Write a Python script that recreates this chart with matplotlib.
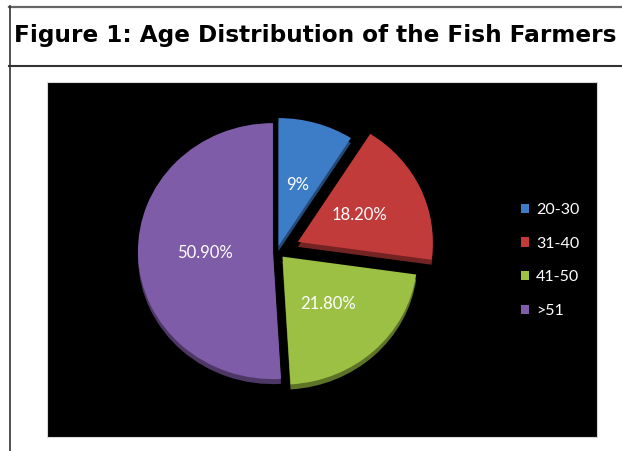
import matplotlib
matplotlib.use("Agg")
import matplotlib.pyplot as plt
from matplotlib.lines import Line2D
from matplotlib.patches import Rectangle, Patch
from matplotlib.colors import to_rgb

# Age groups and their share of fish farmers
categories = ["20-30", "31-40", "41-50", ">51"]
shares = [9.0, 18.2, 21.8, 50.9]
share_labels = ["9%", "18.20%", "21.80%", "50.90%"]

colors = ["#3d7cc7", "#c13b3b", "#9bc043", "#7e5ca8"]
explode = [0.04, 0.17, 0.06, 0.03]

W, H = 622, 451
fig = plt.figure(figsize=(W / 100, H / 100), dpi=100)
fig.patch.set_facecolor("white")


def fx(x):
    return x / W


def fy(y):
    return 1 - y / H


# Table-style frame around the figure caption
fig.add_artist(Line2D([fx(9), fx(622)], [fy(6.5), fy(6.5)], color="#666666", lw=1.6))
fig.add_artist(Line2D([fx(9.5), fx(9.5)], [fy(6), fy(451)], color="#333333", lw=1.2))
fig.add_artist(Line2D([fx(9), fx(622)], [fy(66), fy(66)], color="#333333", lw=1.5))

fig.text(fx(14.5), fy(42), "Figure 1: Age Distribution of the Fish Farmers",
         fontsize=16.65, fontweight="bold", family="DejaVu Sans",
         ha="left", va="baseline", color="black")

# Black chart area
fig.add_artist(Rectangle((fx(47), fy(437)), fx(597) - fx(47), fy(82) - fy(437),
                         transform=fig.transFigure, facecolor="black",
                         edgecolor="#d8d8d8", lw=0.8, zorder=-5))

# Pie placement (pixels): centre and radii
cx, cy, rx, ry = 277, 251, 135, 128


def pie_axes(dy):
    ax = fig.add_axes([fx(cx - 1.25 * rx), fy(cy + 1.25 * ry + dy),
                       2.5 * rx / W, 2.5 * ry / H])
    ax.set_facecolor("none")
    return ax


def darker(c, k=0.6):
    r, g, b = to_rgb(c)
    return (r * k, g * k, b * k)


# Side of the slices, drawn slightly lower and darker
ax_side = pie_axes(5)
ax_side.pie(shares, colors=[darker(c) for c in colors], explode=explode,
            startangle=90, counterclock=False,
            wedgeprops=dict(linewidth=0))
ax_side.set_aspect("auto")
ax_side.set_xlim(-1.25, 1.25)
ax_side.set_ylim(-1.25, 1.25)
ax_side.axis("off")

ax = pie_axes(0)
wedges, texts = ax.pie(shares, colors=colors, explode=explode,
                       startangle=90, counterclock=False,
                       labels=share_labels, labeldistance=0.5,
                       wedgeprops=dict(linewidth=0),
                       textprops=dict(color="white", fontsize=12, family="Lato"))
for t in texts:
    t.set_ha("center")
    t.set_va("center")
ax.set_aspect("auto")
ax.set_xlim(-1.25, 1.25)
ax.set_ylim(-1.25, 1.25)
ax.axis("off")

handles = [Patch(facecolor=c, edgecolor="none") for c in colors]
fig.legend(handles, categories, loc="center left",
           bbox_to_anchor=(fx(521), fy(260.5)), frameon=False,
           borderpad=0, borderaxespad=0, handlelength=0.5, handleheight=0.5,
           handletextpad=0.45, labelspacing=1.23,
           prop=dict(family="Lato", size=11.5), labelcolor="white")

fig.savefig("out.png", dpi=100, facecolor="white")
